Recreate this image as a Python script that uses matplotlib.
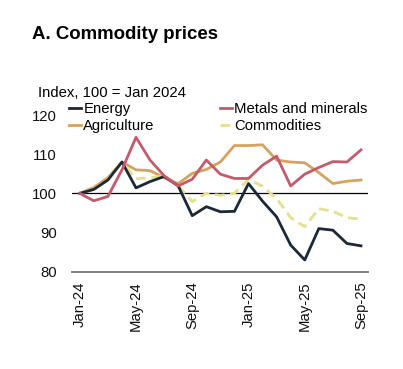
import numpy as np
import pandas as pd
import matplotlib
matplotlib.use('Agg')
import matplotlib.pyplot as plt

plt.rcParams['font.family'] = ['Liberation Sans', 'DejaVu Sans']

# monthly index, 100 = Jan 2024
months = pd.date_range('2024-01-01', '2025-09-01', freq='MS')
energy = [100, 101, 103.4, 108, 101.4, 103, 104.3, 101.9, 94.3, 96.6, 95.3, 95.4,
          102.5, 98, 94, 86.8, 83, 91, 90.6, 87.2, 86.6]
metals = [100, 98.1, 99.2, 106, 114.3, 108.5, 104.5, 101.9, 103.6, 108.5, 104.9, 103.8,
          103.8, 107.2, 109.5, 101.9, 104.9, 106.6, 108.1, 108, 111.1]
agriculture = [100, 101.5, 104, 108, 106, 105.8, 104, 102.5, 105.1, 106.1, 108, 112.2,
               112.2, 112.4, 108.5, 108, 107.8, 105.3, 102.5, 103.1, 103.4]
commodities = [100, 101, 103.5, 108, 103.7, 104, 104.5, 102, 97.9, 100, 99.5, 100,
               103.6, 101.8, 98.7, 93.8, 91.5, 96.1, 95.4, 93.8, 93.4]
tick_idx = [0, 4, 8, 12, 16, 20]

x = np.arange(len(months))
tick_labels = [months[i].strftime('%b-%y') for i in tick_idx]

fig = plt.figure(figsize=(4.03, 3.69), dpi=100)
ax = fig.add_axes([0.1787, 0.2637, 0.7345, 0.4246])

ax.axhline(100, color='black', lw=0.9, zorder=1)
l1, = ax.plot(x, energy, color='#1b2838', lw=2.0, label='Energy', zorder=3)
l2, = ax.plot(x, metals, color='#c45a6c', lw=2.0, label='Metals and minerals', zorder=4)
l3, = ax.plot(x, agriculture, color='#d6a25e', lw=2.0, label='Agriculture', zorder=2)
l4, = ax.plot(x, commodities, color='#e4e08c', lw=2.0, ls=(0, (3.5, 2)), label='Commodities', zorder=2.5)

ax.set_xlim(-0.55, 20.5)
ax.set_ylim(80, 120)
ax.set_yticks([80, 90, 100, 110, 120])
ax.set_xticks(tick_idx)
ax.set_xticklabels(tick_labels, rotation=90)
ax.tick_params(axis='both', length=0, labelsize=10.7, colors='#111111')
ax.tick_params(axis='y', pad=11)
ax.tick_params(axis='x', pad=7)
for s in ['top', 'right', 'left']:
    ax.spines[s].set_visible(False)
ax.spines['bottom'].set_color('#777777')
ax.spines['bottom'].set_linewidth(1.3)

fig.legend(handles=[l1, l3, l2, l4], ncol=2, frameon=False, fontsize=10.7,
           loc='upper left', bbox_to_anchor=(0.172, 0.724),
           handlelength=0.8, handletextpad=0.15, columnspacing=4.4,
           labelspacing=0.2, borderaxespad=0, borderpad=0)

fig.text(32 / 403, 0.8935, 'A. Commodity prices', fontsize=13.4, fontweight='bold',
         va='baseline', ha='left')
fig.text(0.095, 0.738, 'Index, 100 = Jan 2024', fontsize=10.7, va='baseline', ha='left')

fig.savefig('out.png', dpi=100)
